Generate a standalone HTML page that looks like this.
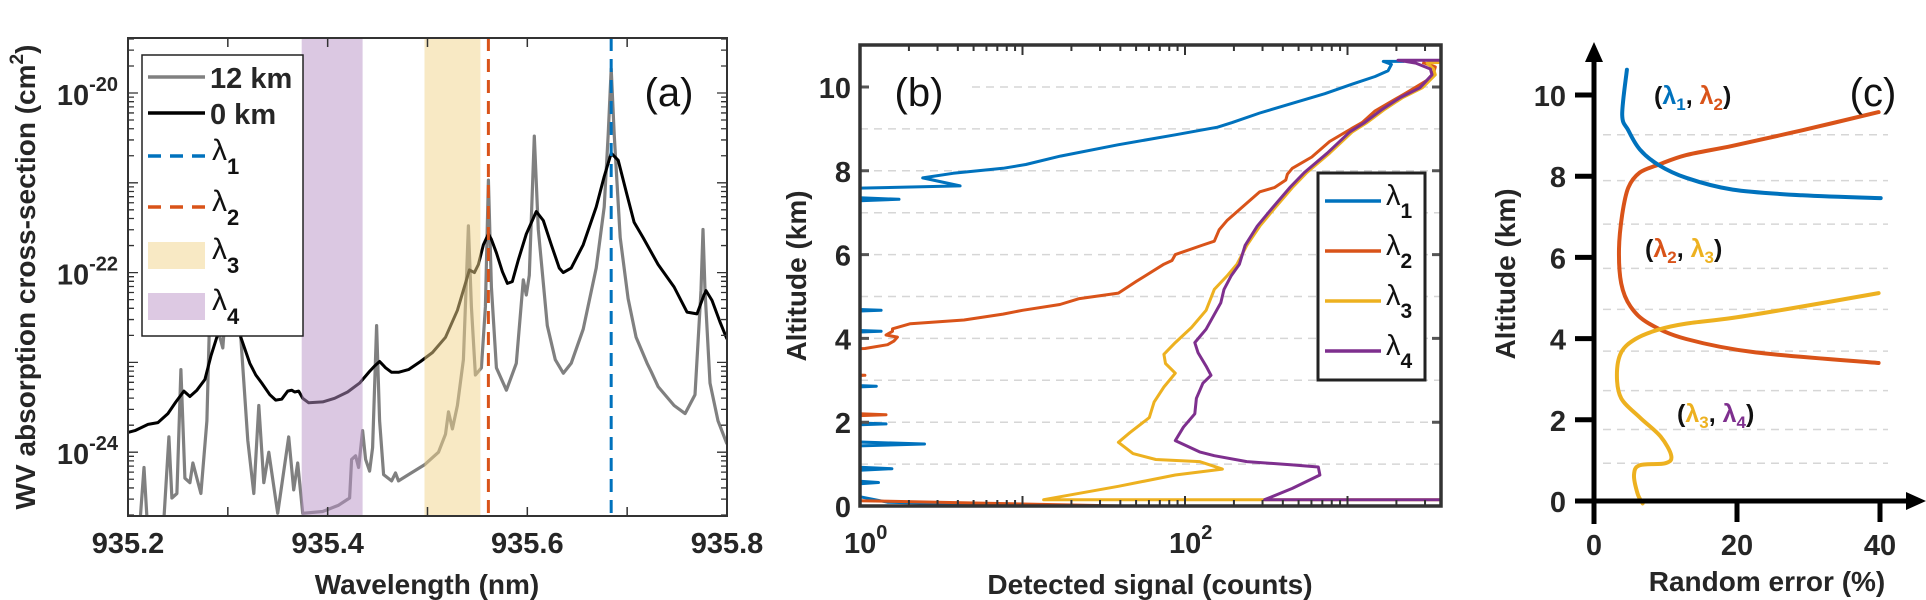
<!DOCTYPE html>
<html><head><meta charset="utf-8"><title>WV lidar figure</title>
<style>
html,body{margin:0;padding:0;background:#fff;}
svg{display:block;font-family:"Liberation Sans",Arial,sans-serif;}
.tk{font-weight:bold;font-size:29px;fill:#262626;}
.ttl{font-weight:bold;font-size:28px;fill:#262626;}
</style></head>
<body>
<svg id="fig" width="1926" height="600" viewBox="0 0 1926 600" xmlns="http://www.w3.org/2000/svg">
<defs>
<clipPath id="clipA"><rect x="128" y="38" width="599" height="478"/></clipPath>
<clipPath id="clipB"><rect x="860" y="45" width="581" height="461"/></clipPath>
</defs>
<g id="pa"></g>
<g id="pb"></g>
<g id="pc"></g>
</svg>
<script>
// ---------- Panel (a) data: wavelength (nm), log10 cross-section ----------
const blackNm=[935.200,935.207,935.220,935.230,935.240,935.248,935.256,935.262,935.269,935.277,935.283,935.289,935.299,935.305,935.311,935.313,935.322,935.328,935.334,935.342,935.348,935.354,935.360,935.364,935.367,935.371,935.375,935.381,935.395,935.407,935.420,935.432,935.442,935.447,935.452,935.458,935.464,935.471,935.481,935.493,935.505,935.518,935.530,935.538,935.542,935.547,935.551,935.556,935.561,935.564,935.569,935.575,935.580,935.585,935.591,935.599,935.609,935.616,935.624,935.632,935.636,935.644,935.656,935.669,935.677,935.684,935.691,935.699,935.707,935.716,935.731,935.747,935.760,935.770,935.777,935.779,935.785,935.793,935.800];
const blackLog=[-23.78,-23.76,-23.69,-23.67,-23.57,-23.44,-23.32,-23.38,-23.31,-23.19,-22.93,-22.72,-22.46,-22.33,-22.46,-22.72,-23.01,-23.14,-23.23,-23.36,-23.42,-23.41,-23.32,-23.31,-23.33,-23.32,-23.40,-23.45,-23.44,-23.40,-23.33,-23.23,-23.10,-23.04,-22.99,-23.06,-23.11,-23.11,-23.08,-22.99,-22.89,-22.72,-22.42,-22.12,-21.97,-22.00,-21.91,-21.69,-21.57,-21.63,-21.78,-21.99,-22.12,-22.10,-21.86,-21.57,-21.32,-21.42,-21.69,-21.95,-22.00,-21.95,-21.69,-21.27,-20.93,-20.67,-20.75,-21.10,-21.44,-21.61,-21.91,-22.16,-22.44,-22.46,-22.25,-22.20,-22.31,-22.55,-22.74];
const grayNm=[935.200,935.211,935.216,935.220,935.235,935.241,935.244,935.249,935.253,935.257,935.262,935.265,935.273,935.279,935.283,935.289,935.295,935.301,935.307,935.313,935.320,935.326,935.331,935.336,935.341,935.350,935.361,935.366,935.370,935.375,935.395,935.411,935.422,935.424,935.428,935.431,935.435,935.438,935.442,935.445,935.449,935.452,935.456,935.464,935.468,935.471,935.481,935.497,935.511,935.518,935.521,935.525,935.530,935.536,935.541,935.544,935.548,935.554,935.558,935.561,935.564,935.569,935.579,935.589,935.596,935.599,935.602,935.607,935.611,935.620,935.628,935.636,935.644,935.656,935.669,935.677,935.681,935.684,935.687,935.693,935.701,935.709,935.720,935.724,935.731,935.747,935.758,935.768,935.774,935.776,935.778,935.783,935.791,935.800];
const grayLog=[-24.93,-24.93,-24.17,-24.93,-24.93,-23.83,-24.51,-24.46,-23.08,-24.29,-24.34,-24.12,-24.46,-23.65,-21.95,-22.59,-22.84,-21.95,-21.95,-22.72,-23.87,-24.46,-23.48,-24.34,-24.00,-24.68,-23.83,-24.42,-24.12,-24.68,-24.66,-24.59,-24.51,-24.08,-24.04,-24.17,-23.76,-24.08,-24.21,-23.95,-22.59,-23.65,-24.25,-24.32,-24.23,-24.32,-24.25,-24.14,-24.00,-23.80,-23.55,-23.74,-23.48,-22.97,-21.48,-22.38,-23.14,-23.06,-22.38,-20.97,-22.16,-23.06,-23.31,-23.01,-22.08,-22.25,-22.03,-20.48,-21.52,-22.59,-22.97,-23.12,-23.01,-22.63,-21.95,-21.27,-20.46,-19.73,-20.46,-21.61,-22.29,-22.72,-23.01,-23.10,-23.27,-23.48,-23.57,-23.36,-22.20,-21.52,-22.20,-23.23,-23.65,-23.91];
const lambda1Nm=935.684, lambda2Nm=935.561;
const band3=[935.497,935.553], band4=[935.374,935.435];
const aXTicks=[935.2,935.4,935.6,935.8];
const aXTickLabels=["935.2","935.4","935.6","935.8"];
const aYTicks=[-20,-22,-24];
const aYTickLabels=["-20","-22","-24"];

// ---------- Panel (b) data: log10 counts, altitude km ----------
const bBlueLog=[1.11,0.17,-0.3,0.114,-0.3,-0.3,0.196,-0.3,-0.3,0.397,-0.3,-0.3,0.16,-0.3,-0.3,0.10,-0.3,-0.3,0.13,-0.3,-0.3,0.13,-0.3,-0.3,0.24,-0.3,-0.3,0.616,0.386,0.573,0.88,1.02,1.233,1.587,1.94,2.20,2.29,2.46,2.66,2.86,3.03,3.17,3.25,3.27,3.22,3.35];
const bBlueAlt=[0.0,0.09,0.45,0.56,0.67,0.80,0.89,0.98,1.40,1.48,1.56,1.90,1.96,2.02,2.80,2.86,2.92,4.11,4.17,4.23,4.61,4.67,4.73,7.24,7.32,7.40,7.56,7.64,7.83,7.94,8.06,8.15,8.35,8.62,8.86,9.04,9.15,9.38,9.61,9.84,10.07,10.25,10.39,10.54,10.61,10.61];
const bRedLog=[1.61,-0.3,-0.3,-0.3,0.16,-0.3,-0.3,0.03,-0.3,-0.3,0.03,0.17,0.21,0.23,0.16,0.20,0.20,0.31,0.64,0.88,1.0,1.23,1.35,1.59,1.70,1.87,1.92,1.94,2.11,2.18,2.21,2.26,2.38,2.46,2.55,2.62,2.63,2.66,2.78,2.89,3.03,3.09,3.17,3.29,3.37,3.49,3.53,3.54,3.46];
const bRedAlt=[0.0,0.15,2.10,2.12,2.18,2.24,3.06,3.12,3.18,3.74,3.76,3.85,3.94,4.03,4.08,4.17,4.23,4.35,4.44,4.58,4.67,4.81,4.95,5.08,5.36,5.77,5.86,6.0,6.23,6.32,6.59,6.82,7.23,7.50,7.60,7.78,7.92,8.06,8.33,8.70,9.02,9.15,9.43,9.70,9.88,10.16,10.34,10.48,10.59];
const bYellowLog=[3.7,1.13,1.59,1.94,2.23,2.09,1.82,1.68,1.59,1.66,1.78,1.81,1.87,1.94,1.88,1.87,1.94,2.04,2.13,2.18,2.26,2.32,2.38,2.46,2.55,2.66,2.75,2.89,3.03,3.12,3.23,3.34,3.46,3.54,3.53,3.49,3.7];
const bYellowAlt=[0.15,0.15,0.47,0.74,0.88,1.06,1.11,1.25,1.52,1.75,2.11,2.48,2.84,3.17,3.40,3.62,3.90,4.26,4.67,5.17,5.50,5.77,6.22,6.68,7.10,7.60,7.96,8.42,8.93,9.15,9.47,9.75,9.98,10.29,10.43,10.57,10.61];
const bPurpleLog=[3.7,2.49,2.66,2.83,2.82,2.66,2.38,2.18,2.09,1.94,1.99,2.06,2.07,2.11,2.16,2.13,2.08,2.06,2.13,2.22,2.24,2.285,2.335,2.37,2.445,2.535,2.645,2.735,2.875,3.015,3.105,3.215,3.325,3.445,3.52,3.51,3.42,3.31,3.7];
const bPurpleAlt=[0.15,0.15,0.42,0.74,0.93,0.98,1.06,1.20,1.29,1.56,1.88,2.20,2.57,2.93,3.12,3.34,3.66,3.90,4.22,4.85,5.17,5.50,5.77,6.22,6.68,7.10,7.60,7.96,8.42,8.93,9.15,9.47,9.75,9.98,10.29,10.43,10.57,10.64,10.64];
const bYTicks=[0,2,4,6,8,10];
const bXTickExp=["0","2"];

// ---------- Panel (c) data: random error (%), altitude km ----------
const cBlueErr=[4.6,3.95,4.8,6.4,9.0,12.9,19.4,29.1,40.1];
const cBlueAlt=[10.62,9.51,9.13,8.66,8.28,7.96,7.67,7.53,7.46];
const cRedErr=[39.8,29.1,19.4,12.9,9.0,6.4,4.8,3.95,3.5,3.8,5.1,7.7,12.9,22.6,39.8];
const cRedAlt=[9.58,9.13,8.75,8.52,8.28,8.09,7.72,7.06,6.21,5.36,4.79,4.37,3.99,3.66,3.40];
const cYellowErr=[39.8,29.1,19.4,12.9,9.0,5.8,3.8,3.2,3.8,6.4,9.3,10.8,10.0,6.4,5.6,6.1,6.8];
const cYellowAlt=[5.12,4.79,4.51,4.37,4.22,3.99,3.66,3.10,2.53,2.06,1.59,1.12,0.93,0.88,0.64,0.18,-0.06];
const cYTicks=[0,2,4,6,8,10];
const cXTicks=[0,20,40];
const cGridAlt=[9.02,7.89,6.82,5.73,4.72,3.69,2.72,1.76,0.93];

// ---------- helpers ----------
const NS="http://www.w3.org/2000/svg";
function mk(parent,tag,attrs,text){const e=document.createElementNS(NS,tag);for(const k in attrs)e.setAttribute(k,attrs[k]);if(text!==undefined)e.textContent=text;parent.appendChild(e);return e;}
function pathFrom(xs,ys,fx,fy){let d="";for(let i=0;i<xs.length;i++){d+=(i?"L":"M")+fx(xs[i]).toFixed(1)+","+fy(ys[i]).toFixed(1);}return d;}
function smoothFrom(xs,ys,fx,fy){const P=xs.map((x,i)=>[fx(x),fy(ys[i])]);let d="M"+P[0][0].toFixed(1)+","+P[0][1].toFixed(1);
  for(let i=0;i<P.length-1;i++){const p0=P[Math.max(0,i-1)],p1=P[i],p2=P[i+1],p3=P[Math.min(P.length-1,i+2)];
    const c1=[p1[0]+(p2[0]-p0[0])/6,p1[1]+(p2[1]-p0[1])/6],c2=[p2[0]-(p3[0]-p1[0])/6,p2[1]-(p3[1]-p1[1])/6];
    d+="C"+c1[0].toFixed(1)+","+c1[1].toFixed(1)+" "+c2[0].toFixed(1)+","+c2[1].toFixed(1)+" "+p2[0].toFixed(1)+","+p2[1].toFixed(1);}
  return d;}
const GREEK="λ";

// ================= Panel A =================
const pa=document.getElementById('pa');
const xa=v=>128+(v-935.2)*998.3;
const ya=v=>93+(-20-v)*89.8;
{
  const cg=mk(pa,'g',{'clip-path':'url(#clipA)'});
  
  
  const g=mk(cg,'path',{d:pathFrom(grayNm,grayLog,xa,ya),fill:'none',stroke:'#808080','stroke-width':3.2,'stroke-linejoin':'round'});
  
  
  const b=mk(cg,'path',{d:pathFrom(blackNm,blackLog,xa,ya),fill:'none',stroke:'#000','stroke-width':3,'stroke-linejoin':'round'});
  
  
  const r4=mk(cg,'rect',{x:xa(band4[0]),y:38,width:xa(band4[1])-xa(band4[0]),height:478,fill:'#b892c6','fill-opacity':0.5});
  
  
  const r3=mk(cg,'rect',{x:xa(band3[0]),y:38,width:xa(band3[1])-xa(band3[0]),height:478,fill:'#f2d38a','fill-opacity':0.5});
  
  
  const l2=mk(cg,'line',{x1:xa(lambda2Nm),x2:xa(lambda2Nm),y1:38,y2:516,stroke:'#D95319','stroke-width':3,'stroke-dasharray':'13,8'});
  
  
  const l1=mk(cg,'line',{x1:xa(lambda1Nm),x2:xa(lambda1Nm),y1:38,y2:516,stroke:'#0072BD','stroke-width':3,'stroke-dasharray':'13,8'});
  
  
  for(let t=935.2;t<935.81;t+=0.1){const x=xa(t);
    const tk=mk(pa,'path',{d:`M${x},516v-9M${x},38v9`,stroke:'#333','stroke-width':1.5});
    
    }
  for(let d=-25;d<=-20;d++){for(let k=1;k<=9;k++){const v=d+Math.log10(k);const y=ya(v);if(y<38||y>516)continue;const L=k==1?10:6;
    const tk=mk(pa,'path',{d:`M128,${y}h${L}M727,${y}h-${L}`,stroke:'#333','stroke-width':1.3});
    
    }}
  const box=mk(pa,'rect',{x:128,y:38,width:599,height:478,fill:'none',stroke:'#333','stroke-width':2});
  
  
  aXTicks.forEach((t,i)=>{const tx=mk(pa,'text',{x:xa(t),y:553,'text-anchor':'middle',class:'tk'},aXTickLabels[i]);
    
    });
  aYTicks.forEach((t,i)=>{const tx=mk(pa,'text',{x:118,y:ya(t)+12,'text-anchor':'end',class:'tk'});
    
    
    mk(tx,'tspan',{},'10');mk(tx,'tspan',{dy:-14,'font-size':20},aYTickLabels[i]);});
  const xt=mk(pa,'text',{x:427,y:594,'text-anchor':'middle',class:'ttl'},'Wavelength (nm)');
  
  
  const yt=mk(pa,'text',{x:0,y:0,'text-anchor':'middle',class:'ttl',transform:'translate(35,277) rotate(-90)'});
  
  
  mk(yt,'tspan',{},'WV absorption cross-section (cm');mk(yt,'tspan',{dy:-12,'font-size':19},'2');mk(yt,'tspan',{dy:12},')');
  const lab=mk(pa,'text',{x:669,y:106,'text-anchor':'middle','font-size':40,fill:'#111'},'(a)');
  
  
  const lg=mk(pa,'g',{});
  
  
  mk(lg,'rect',{x:142,y:55,width:161,height:281,fill:'#fff',stroke:'#222','stroke-width':1.5});
  const ents=[{y:77,t:'12 km',kind:'line',c:'#808080'},{y:113,t:'0 km',kind:'line',c:'#000'},{y:156,t:'1',kind:'dash',c:'#0072BD'},{y:207,t:'2',kind:'dash',c:'#D95319'},{y:255,t:'3',kind:'patch',c:'#f8e9c4'},{y:306,t:'4',kind:'patch',c:'#ddc9e3'}];
  ents.forEach(e=>{const eg=mk(lg,'g',{});
    
    
    if(e.kind=='line')mk(eg,'line',{x1:148,x2:205,y1:e.y,y2:e.y,stroke:e.c,'stroke-width':3.5});
    else if(e.kind=='dash')mk(eg,'line',{x1:148,x2:205,y1:e.y,y2:e.y,stroke:e.c,'stroke-width':3.5,'stroke-dasharray':'13,9'});
    else mk(eg,'rect',{x:148,y:e.y-13,width:57,height:27,fill:e.c});
    if(e.kind=='line'){mk(eg,'text',{x:210,y:e.y+11,class:'tk','font-size':30,fill:'#111'},e.t);}
    else{const t=mk(eg,'text',{x:212,y:e.y+4,'font-size':30,fill:'#111'});mk(t,'tspan',{},GREEK);mk(t,'tspan',{dy:14,'font-size':22,'font-weight':'bold'},e.t);}
  });
}

// ================= Panel B =================
const pb=document.getElementById('pb');
const xb=v=>860+v*162.5;
const yb=v=>506-v*41.9;
{
  for(let a=1;a<=10;a++){const gl=mk(pb,'line',{x1:a==10?972:860,x2:1441,y1:yb(a),y2:yb(a),stroke:'#d6d6d6','stroke-width':1.5,'stroke-dasharray':'8,6'});
    
    }
  const cg=mk(pb,'g',{'clip-path':'url(#clipB)'});
  
  
  const series=[[bBlueLog,bBlueAlt,'#0072BD','line-lambda1-b'],[bRedLog,bRedAlt,'#D95319','line-lambda2-b'],[bYellowLog,bYellowAlt,'#EDB120','line-lambda3-b'],[bPurpleLog,bPurpleAlt,'#7E2F8E','line-lambda4-b']];
  series.forEach(s=>{const p=mk(cg,'path',{d:pathFrom(s[0],s[1],xb,yb),fill:'none',stroke:s[2],'stroke-width':3,'stroke-linejoin':'round'});
    
    });
  for(let d=0;d<=3;d++){for(let k=1;k<=9;k++){const x=xb(d+Math.log10(k));if(x>1441)continue;const L=k==1?10:6;
    const tk=mk(pb,'path',{d:`M${x},506v-${L}M${x},45v${L}`,stroke:'#333','stroke-width':2});
    
    }}
  bYTicks.forEach(a=>{const y=yb(a);const tk=mk(pb,'path',{d:`M860,${y}h9M1441,${y}h-9`,stroke:'#555','stroke-width':3});
    
    
    const tx=mk(pb,'text',{x:851,y:y+11,'text-anchor':'end',class:'tk'},String(a));
    
    });
  const box=mk(pb,'rect',{x:860,y:45,width:581,height:461,fill:'none',stroke:'#333','stroke-width':3.5});
  
  
  bXTickExp.forEach(e=>{const tx=mk(pb,'text',{x:xb(+e)-16,y:553,class:'tk'});
    
    
    mk(tx,'tspan',{},'10');mk(tx,'tspan',{dy:-14,'font-size':20},e);});
  const xt=mk(pb,'text',{x:1150,y:594,'text-anchor':'middle',class:'ttl'},'Detected signal (counts)');
  
  
  const yt=mk(pb,'text',{x:0,y:0,'text-anchor':'middle',class:'ttl',transform:'translate(806,276) rotate(-90)'},'Altitude (km)');
  
  
  const lab=mk(pb,'text',{x:919,y:106,'text-anchor':'middle','font-size':40,fill:'#111'},'(b)');
  
  
  const lg=mk(pb,'g',{});
  
  
  mk(lg,'rect',{x:1318,y:173,width:107,height:207,fill:'#fff',stroke:'#222','stroke-width':3});
  const le=[[201,'1','#0072BD'],[251,'2','#D95319'],[301,'3','#EDB120'],[351,'4','#7E2F8E']];
  le.forEach(e=>{const eg=mk(lg,'g',{});
    
    
    mk(eg,'line',{x1:1325,x2:1381,y1:e[0],y2:e[0],stroke:e[2],'stroke-width':3.5});
    const t=mk(eg,'text',{x:1386,y:e[0]+4,'font-size':29,fill:'#111'});mk(t,'tspan',{},GREEK);mk(t,'tspan',{dy:13,'font-size':21,'font-weight':'bold'},e[1]);});
}

// ================= Panel C =================
const pc=document.getElementById('pc');
const xc=v=>1594+v*7.15;
const yc=v=>501-v*40.6;
{
  cGridAlt.forEach(a=>{const gl=mk(pc,'line',{x1:1603,x2:1888,y1:yc(a),y2:yc(a),stroke:'#d6d6d6','stroke-width':1.5,'stroke-dasharray':'8,6'});
    
    });
  const sc=[[cRedErr,cRedAlt,'#D95319','line-error-l2-l3'],[cYellowErr,cYellowAlt,'#EDB120','line-error-l3-l4'],[cBlueErr,cBlueAlt,'#0072BD','line-error-l1-l2']];
  sc.forEach(s=>{const p=mk(pc,'path',{d:smoothFrom(s[0],s[1],xc,yc),fill:'none',stroke:s[2],'stroke-width':4,'stroke-linejoin':'round','stroke-linecap':'round'});
    
    });
  const ax=mk(pc,'path',{d:'M1594,524V58M1576,501H1912',stroke:'#000','stroke-width':5,fill:'none'});
  
  
  const ar1=mk(pc,'path',{d:'M1594,42L1585,62L1603,62Z',fill:'#000'});
  
  
  const ar2=mk(pc,'path',{d:'M1926,501L1906,492L1906,510Z',fill:'#000'});
  
  
  cYTicks.forEach(a=>{const y=yc(a);const tk=mk(pc,'path',{d:`M1575,${y}h19`,stroke:'#000','stroke-width':5});
    
    
    const tx=mk(pc,'text',{x:1566,y:y+11,'text-anchor':'end',class:'tk',fill:'#000'},String(a));
    
    });
  cXTicks.forEach(v=>{const x=xc(v);const tk=mk(pc,'path',{d:`M${x},501v21`,stroke:'#000','stroke-width':5});
    
    
    const tx=mk(pc,'text',{x:x,y:555,'text-anchor':'middle',class:'tk',fill:'#000'},String(v));
    
    });
  const xt=mk(pc,'text',{x:1767,y:591,'text-anchor':'middle',class:'ttl',fill:'#000'},'Random error (%)');
  
  
  const yt=mk(pc,'text',{x:0,y:0,'text-anchor':'middle',class:'ttl',fill:'#000',transform:'translate(1515,274) rotate(-90)'},'Altitude (km)');
  
  
  const lab=mk(pc,'text',{x:1873,y:106,'text-anchor':'middle','font-size':40,fill:'#111'},'(c)');
  
  
  const ann=[[1654,104,'1','#0072BD','2','#D95319','annotation-l1-l2'],[1645,257,'2','#D95319','3','#EDB120','annotation-l2-l3'],[1677,422,'3','#EDB120','4','#7E2F8E','annotation-l3-l4']];
  ann.forEach(a=>{const t=mk(pc,'text',{x:a[0],y:a[1],'font-size':25,'font-weight':'bold',fill:'#111'});
    
    
    mk(t,'tspan',{},'(');mk(t,'tspan',{fill:a[3]},GREEK);mk(t,'tspan',{fill:a[3],'font-size':17,dy:6},a[2]);
    mk(t,'tspan',{dy:-6},', ');mk(t,'tspan',{fill:a[5]},GREEK);mk(t,'tspan',{fill:a[5],'font-size':17,dy:6},a[4]);mk(t,'tspan',{dy:-6},')');});
}
</script>
</body></html>
